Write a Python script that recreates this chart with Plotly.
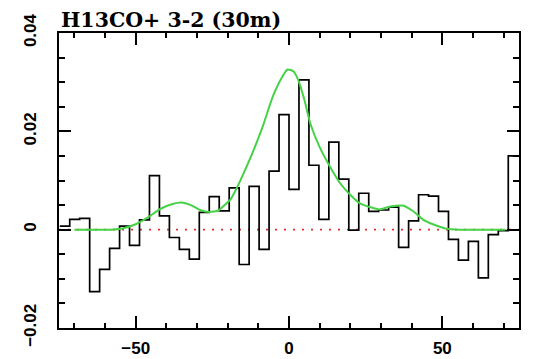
import plotly.graph_objects as go

# Channel left edges (km/s) and spectrum values (K)
chan_left = [-74.75, -71.5, -68.25, -65.0, -61.75, -58.5, -55.25, -52.0, -48.75, -45.5,
             -42.25, -39.0, -35.75, -32.5, -29.25, -26.0, -22.75, -19.5, -16.25, -13.0,
             -9.75, -6.5, -3.25, 0.0, 3.25, 6.5, 9.75, 13.0, 16.25, 19.5,
             22.75, 26.0, 29.25, 32.5, 35.75, 39.0, 42.25, 45.5, 48.75, 52.0,
             55.25, 58.5, 61.75, 65.0, 68.25, 71.5]
chan_right_end = 74.75
spec = [0.0007, 0.0021, 0.0023, -0.0126, -0.0081, -0.0038, 0.0007, -0.0032, 0.0020, 0.0110,
        0.0028, -0.0016, -0.0040, -0.0060, 0.0035, 0.0067, 0.0038, 0.0085, -0.0071, 0.0088,
        -0.0040, 0.0119, 0.0234, 0.0082, 0.0305, 0.0131, 0.0021, 0.0178, 0.0103, -0.0001,
        0.0074, 0.0037, 0.0040, 0.0046, -0.0036, 0.0018, 0.0071, 0.0068, 0.0037, -0.0020,
        -0.0062, -0.0024, -0.0098, -0.0010, -0.0002, 0.0150]

# Model (green) curve
model_v = [-70, -58, -54, -50, -46, -42, -38, -35, -32, -29, -26, -23, -21.5, -19, -17,
           -15, -12.8, -10.5, -8.5, -5.2, -2, -0.5, 1.5, 3, 5, 7, 10, 13.3, 16.5, 19.8,
           23, 26.3, 29.5, 33, 37, 40.4, 43.6, 46.9, 51.3, 55.6, 70.5]
model_t = [0, 0, 0.0003, 0.0011, 0.0025, 0.0042, 0.0052, 0.0055, 0.0050, 0.0040,
           0.0036, 0.0039, 0.0047, 0.0062, 0.0085, 0.0112, 0.0143, 0.0178, 0.0211, 0.0272,
           0.0313, 0.0326, 0.0322, 0.0305, 0.0265, 0.0215, 0.0168, 0.0129, 0.0096, 0.0072,
           0.0054, 0.0046, 0.0041, 0.0047, 0.0049, 0.0038, 0.0021, 0.0011, 0.0002, 0, 0]

x_range = [-75, 75]
y_range = [-0.02002, 0.04002]
x_tickvals = [-50, 0, 50]
x_ticktext = ["\u221250", "0", "50"]
y_tickvals = [-0.02, 0, 0.02, 0.04]
y_ticktext = ["\u22120.02", "0", "0.02", "0.04"]
title_text = "H13CO+ 3-2 (30m)"

fig = go.Figure()

# baseline
fig.add_trace(go.Scatter(x=x_range, y=[0, 0], mode="lines",
                         line=dict(color="#e03030", width=1.6, dash="2px,7px"),
                         hoverinfo="skip"))
# histogram
fig.add_trace(go.Scatter(x=chan_left + [chan_right_end], y=spec + [spec[-1]],
                         mode="lines", line=dict(color="black", width=1.7, shape="hv")))
# model
fig.add_trace(go.Scatter(x=model_v, y=model_t, mode="lines",
                         line=dict(color="rgb(70,210,70)", width=2, shape="spline", smoothing=0.6)))

axis_common = dict(showline=True, linecolor="black", linewidth=2, mirror="allticks",
                   ticks="inside", ticklen=12, tickwidth=1.5, tickcolor="black",
                   showgrid=False, zeroline=False, automargin=False,
                   tickfont=dict(family="Liberation Sans", size=17, color="black", weight="bold"))

fig.update_xaxes(range=x_range, tickmode="array", tickvals=x_tickvals, ticktext=x_ticktext,
                 ticklabelstandoff=4,
                 minor=dict(dtick=10, tick0=0, ticks="inside", ticklen=5, tickwidth=1.5,
                            tickcolor="black"),
                 **axis_common)
fig.update_yaxes(range=y_range, tickmode="array", tickvals=y_tickvals, ticktext=y_ticktext,
                 tickangle=-90, ticklabelstandoff=14,
                 minor=dict(dtick=0.005, tick0=0, ticks="inside", ticklen=6, tickwidth=1.5,
                            tickcolor="black"),
                 **axis_common)

fig.add_annotation(text=title_text, xref="paper", yref="paper", x=0, y=1,
                   xanchor="left", yanchor="bottom", showarrow=False, yshift=-1,
                   font=dict(family="DejaVu Serif", size=20.5, color="black", weight="bold"))

fig.update_layout(width=535, height=359, margin=dict(l=59, r=16, t=33, b=31),
                  paper_bgcolor="white", plot_bgcolor="white", showlegend=False)

fig.write_html("out.html")
